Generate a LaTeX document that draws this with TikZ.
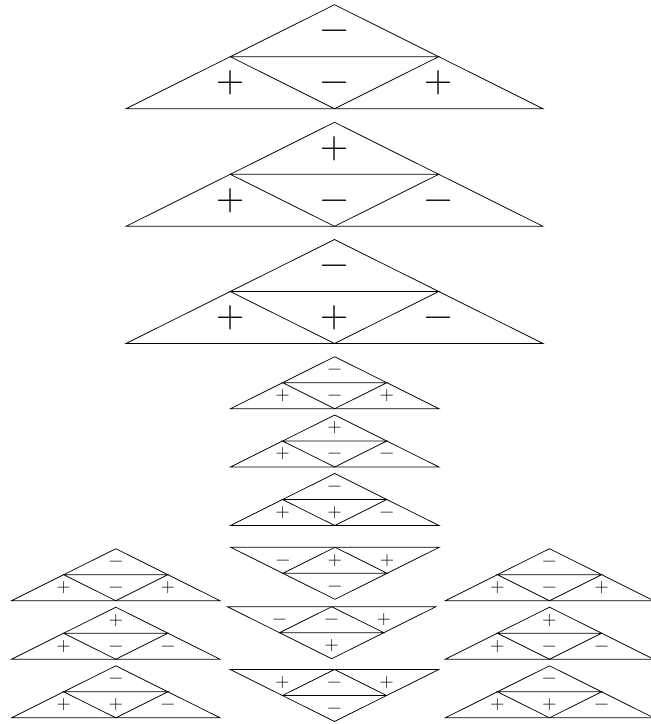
\documentclass[tikz,border=0pt]{standalone}
\tikzset{
  edge/.style={line width=0.75pt, line join=miter},
  sgbig/.style={inner sep=0pt, anchor=base, yshift=-9.75pt, font=\fontsize{39}{39}\selectfont},
  sgsmall/.style={inner sep=0pt, anchor=base, yshift=-4.9pt, font=\fontsize{19.5}{19.5}\selectfont}
}
% upright triangle: name, apex x, apex y, scale, sign style, top, left, mid, right
\newcommand\uptri[9]{%
  \begin{scope}[shift={(#2,#3)},scale=#4]
    \draw[edge] (0,0) -- (-208.5,104) -- (208.5,104) -- cycle;
    \draw[edge] (-104.25,52) -- (104.25,52) -- (0,104) -- cycle;
    \node[#5] (#1t) at (0,26) {#6};
    \node[#5] (#1l) at (-104.25,78) {#7};
    \node[#5] (#1m) at (0,78) {#8};
    \node[#5] (#1r) at (104.25,78) {#9};
  \end{scope}}
% inverted triangle: name, top-centre x, top y, scale, sign style, left, mid, right, bottom
\newcommand\dntri[9]{%
  \begin{scope}[shift={(#2,#3)},scale=#4]
    \draw[edge] (-208.5,0) -- (208.5,0) -- (0,104) -- cycle;
    \draw[edge] (-104.25,52) -- (104.25,52) -- (0,0) -- cycle;
    \node[#5] (#1l) at (-104.25,26) {#6};
    \node[#5] (#1m) at (0,26) {#7};
    \node[#5] (#1r) at (104.25,26) {#8};
    \node[#5] (#1b) at (0,78) {#9};
  \end{scope}}
\begin{document}
\begin{tikzpicture}[x=1pt,y=-1pt]
  \useasboundingbox (0,0) rectangle (651,724);
  \clip (0,0) rectangle (651,724);
  % large triangles
  \uptri{A}{334.5}{4.7}{1}{sgbig}{−}{+}{−}{+}
  \uptri{B}{334.5}{122.3}{1}{sgbig}{+}{+}{−}{−}
  \uptri{C}{334.5}{239.5}{1}{sgbig}{−}{+}{+}{−}
  % small centre column
  \uptri{D}{334.7}{356.7}{0.5}{sgsmall}{−}{+}{−}{+}
  \uptri{E}{334.7}{415}{0.5}{sgsmall}{+}{+}{−}{−}
  \uptri{F}{334.7}{473.5}{0.5}{sgsmall}{−}{+}{+}{−}
  \dntri{G}{335}{547.3}{0.5}{sgsmall}{−}{+}{+}{−}
  \dntri{H}{331.7}{606.7}{0.5}{sgsmall}{−}{−}{+}{+}
  \dntri{I}{334.5}{669.5}{0.5}{sgsmall}{+}{−}{+}{−}
  % left column
  \uptri{J}{115.8}{548.7}{0.5}{sgsmall}{−}{+}{−}{+}
  \uptri{K}{115.8}{607.2}{0.5}{sgsmall}{+}{+}{−}{−}
  \uptri{L}{115.8}{665.8}{0.5}{sgsmall}{−}{+}{+}{−}
  % right column
  \uptri{M}{549.5}{548.7}{0.5}{sgsmall}{−}{+}{−}{+}
  \uptri{N}{549.5}{607.2}{0.5}{sgsmall}{+}{+}{−}{−}
  \uptri{O}{549.5}{665.8}{0.5}{sgsmall}{−}{+}{+}{−}
\end{tikzpicture}
\end{document}
